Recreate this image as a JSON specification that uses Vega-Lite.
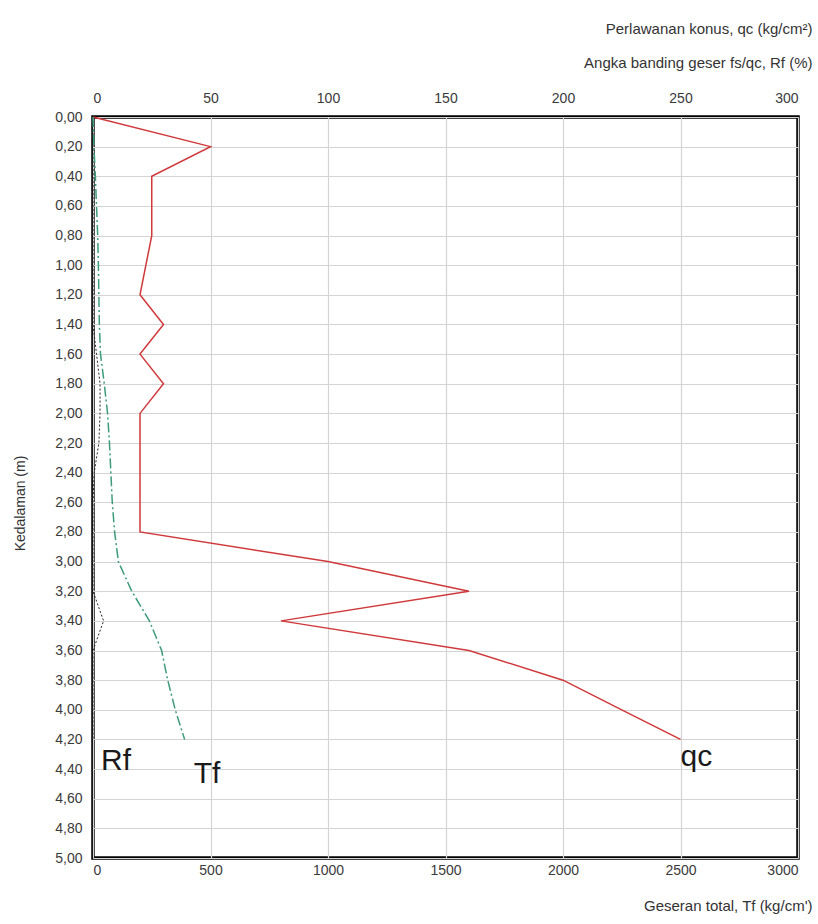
{
  "$schema": "https://vega.github.io/schema/vega-lite/v6.json",
  "width": 705,
  "height": 741,
  "autosize": "none",
  "padding": {"left": 93, "top": 117, "right": 20, "bottom": 66},
  "background": "white",
  "config": {
    "view": {"stroke": "#000", "strokeWidth": 3.5},
    "font": "Liberation Sans",
    "axis": {
      "labelFont": "Liberation Sans",
      "titleFont": "Liberation Sans",
      "labelFontSize": 14,
      "labelColor": "#3a3a3a",
      "titleColor": "#333",
      "titleFontWeight": "normal",
      "titleFontSize": 15,
      "ticks": false,
      "domain": false,
      "gridColor": "#d4d4d4",
      "gridWidth": 1.2
    }
  },
  "data": {
    "values": [
      {"depth": 0.0, "qc": 0, "Tf": 0, "Rf": 0},
      {"depth": 0.2, "qc": 50, "Tf": 4, "Rf": 0},
      {"depth": 0.4, "qc": 25, "Tf": 10, "Rf": 0},
      {"depth": 0.6, "qc": 25, "Tf": 15, "Rf": 0},
      {"depth": 0.8, "qc": 25, "Tf": 20, "Rf": 0},
      {"depth": 1.0, "qc": 22.5, "Tf": 23, "Rf": 0},
      {"depth": 1.2, "qc": 20, "Tf": 25, "Rf": 0},
      {"depth": 1.4, "qc": 30, "Tf": 27, "Rf": 0},
      {"depth": 1.6, "qc": 20, "Tf": 32, "Rf": 1.5},
      {"depth": 1.8, "qc": 30, "Tf": 48, "Rf": 3},
      {"depth": 2.0, "qc": 20, "Tf": 62, "Rf": 3},
      {"depth": 2.2, "qc": 20, "Tf": 70, "Rf": 2.5},
      {"depth": 2.4, "qc": 20, "Tf": 76, "Rf": 0.5},
      {"depth": 2.6, "qc": 20, "Tf": 82, "Rf": 0},
      {"depth": 2.8, "qc": 20, "Tf": 92, "Rf": 0},
      {"depth": 3.0, "qc": 100, "Tf": 108, "Rf": 0},
      {"depth": 3.2, "qc": 160, "Tf": 165, "Rf": 0},
      {"depth": 3.4, "qc": 80, "Tf": 240, "Rf": 4.5},
      {"depth": 3.6, "qc": 160, "Tf": 292, "Rf": 0},
      {"depth": 3.8, "qc": 200, "Tf": 318, "Rf": 0},
      {"depth": 4.0, "qc": 225, "Tf": 350, "Rf": 0},
      {"depth": 4.2, "qc": 250, "Tf": 390, "Rf": 0}
    ]
  },
  "encoding": {
    "y": {
      "field": "depth",
      "type": "quantitative",
      "scale": {"domain": [0, 5], "reverse": true, "nice": false, "zero": false},
      "axis": {
        "values": [0, 0.2, 0.4, 0.6, 0.8, 1.0, 1.2, 1.4, 1.6, 1.8, 2.0, 2.2, 2.4, 2.6, 2.8, 3.0, 3.2, 3.4, 3.6, 3.8, 4.0, 4.2, 4.4, 4.6, 4.8, 5.0],
        "labelExpr": "replace(format(datum.value, '.2f'), '.', ',')",
        "labelPadding": 11,
        "title": "Kedalaman (m)",
        "titleFontSize": 14,
        "titleX": -73,
        "titleY": 386,
        "titleAngle": -90,
        "titleAlign": "center",
        "titleBaseline": "middle",
        "grid": true
      }
    }
  },
  "layer": [
    {
      "mark": {"type": "line", "color": "#d0393b", "strokeWidth": 1.5},
      "encoding": {
        "x": {
          "field": "qc",
          "type": "quantitative",
          "scale": {"domain": [0, 300], "nice": false},
          "axis": {
            "orient": "top",
            "values": [0, 50, 100, 150, 200, 250, 300],
            "format": "d",
            "labelPadding": 12,
            "grid": true,
            "title": ["Perlawanan konus, qc (kg/cm²)", "Angka banding geser fs/qc, Rf (%)"],
            "titleLineHeight": 34,
            "titleAnchor": "end",
            "titleAlign": "right",
            "titleBaseline": "middle",
            "titleX": 719,
            "titleY": -89
          }
        },
        "order": {"field": "depth", "type": "quantitative"}
      }
    },
    {
      "mark": {"type": "line", "color": "#222", "strokeWidth": 1, "strokeDash": [2, 2]},
      "encoding": {
        "x": {"field": "Rf", "type": "quantitative", "scale": {"domain": [0, 300], "nice": false}, "axis": null},
        "order": {"field": "depth", "type": "quantitative"}
      }
    },
    {
      "mark": {"type": "line", "color": "#3d9b7d", "strokeWidth": 1.5, "strokeDash": [10, 3, 2, 3]},
      "encoding": {
        "x": {
          "field": "Tf",
          "type": "quantitative",
          "scale": {"domain": [0, 3000], "nice": false},
          "axis": {
            "orient": "bottom",
            "values": [0, 500, 1000, 1500, 2000, 2500, 3000],
            "format": "d",
            "labelPadding": 5,
            "grid": false,
            "title": "Geseran total, Tf (kg/cm')",
            "titleAnchor": "end",
            "titleAlign": "right",
            "titleBaseline": "middle",
            "titleX": 719,
            "titleY": 47
          }
        },
        "order": {"field": "depth", "type": "quantitative"}
      }
    },
    {
      "transform": [{"filter": "datum.depth == 4.2"}],
      "mark": {"type": "text", "text": "qc", "font": "Liberation Sans", "fontSize": 30, "align": "left", "baseline": "alphabetic", "dx": 0, "dy": 27, "color": "#1a1a1a"},
      "encoding": {
        "x": {"field": "qc", "type": "quantitative", "scale": {"domain": [0, 300], "nice": false}, "axis": null}
      }
    },
    {
      "transform": [{"filter": "datum.depth == 4.2"}],
      "mark": {"type": "text", "text": "Rf", "font": "Liberation Sans", "fontSize": 30, "align": "left", "baseline": "alphabetic", "dx": 8, "dy": 31, "color": "#1a1a1a"},
      "encoding": {
        "x": {"field": "Rf", "type": "quantitative", "scale": {"domain": [0, 300], "nice": false}, "axis": null}
      }
    },
    {
      "transform": [{"filter": "datum.depth == 4.2"}],
      "mark": {"type": "text", "text": "Tf", "font": "Liberation Sans", "fontSize": 30, "align": "left", "baseline": "alphabetic", "dx": 9, "dy": 44, "color": "#1a1a1a"},
      "encoding": {
        "x": {"field": "Tf", "type": "quantitative", "scale": {"domain": [0, 3000], "nice": false}, "axis": null}
      }
    }
  ],
  "resolve": {"scale": {"x": "independent"}, "axis": {"x": "independent"}}
}
